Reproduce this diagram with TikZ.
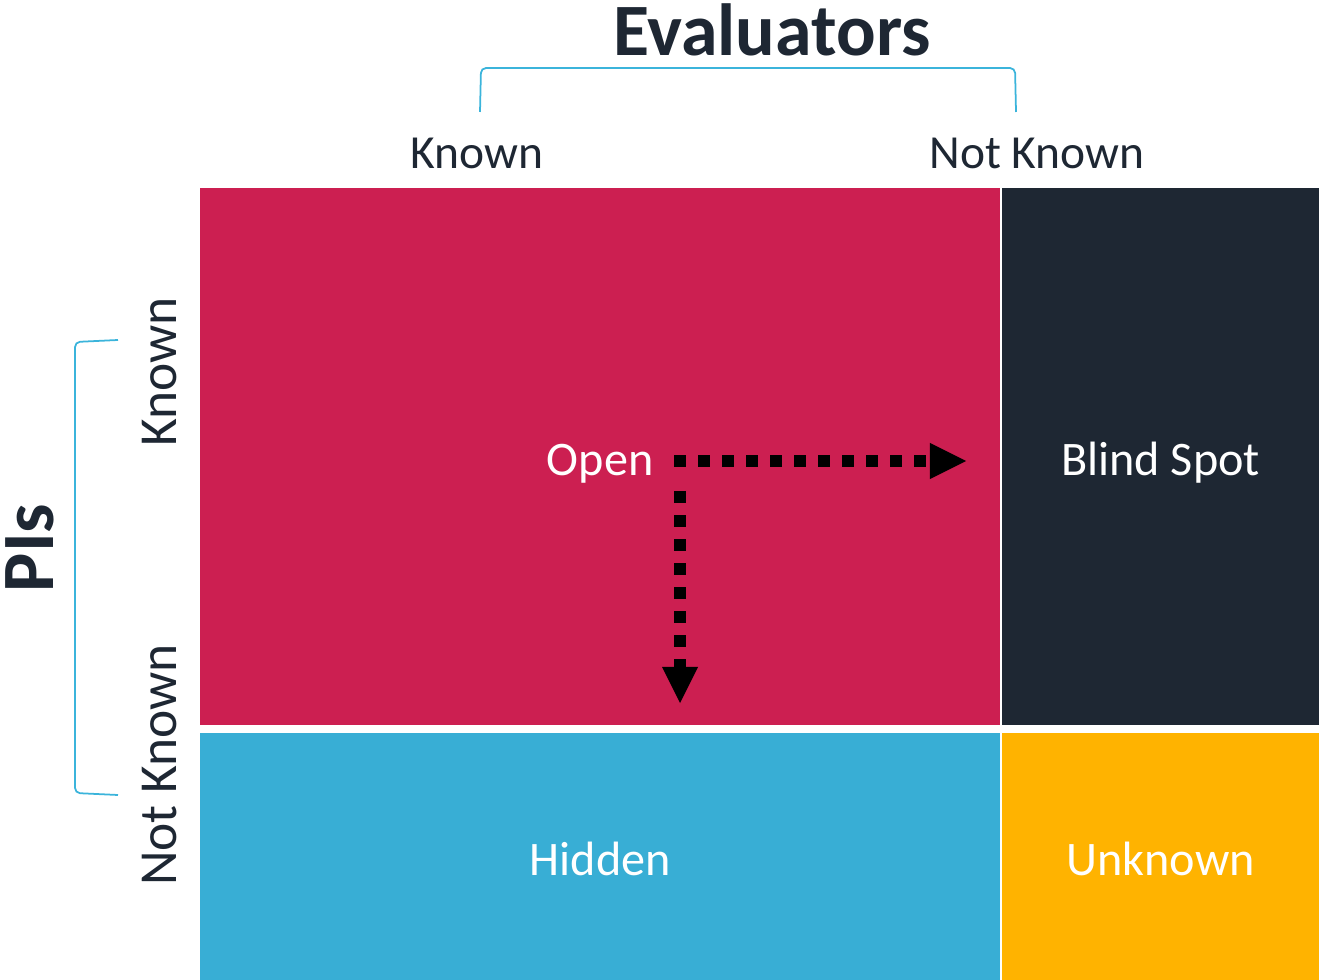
\documentclass[tikz,border=0pt]{standalone}
\usepackage{fontspec}
\setmainfont{Carlito}
\usetikzlibrary{arrows.meta}
\definecolor{openred}{HTML}{CC1F51}
\definecolor{blindnavy}{HTML}{1E2733}
\definecolor{hiddenblue}{HTML}{38AED5}
\definecolor{unknownamber}{HTML}{FFB300}
\definecolor{bracecyan}{HTML}{3BB4DB}
\tikzset{
    quadrant/.style = {
        rectangle,
        anchor=north west,
        outer sep=0pt,
        inner sep=0pt,
        text height=11pt,
        text depth=0.5pt,
        text=white,
        font=\fontsize{13.7}{16}\selectfont,
    },
    axislabel/.style = {
        text=blindnavy,
        font=\fontsize{13.5}{16}\selectfont,
    },
    sidelabel/.style = {
        rotate=90,
        text=blindnavy,
        font=\fontsize{15.2}{18}\selectfont,
    },
    heading/.style = {
        text=blindnavy,
        font=\fontsize{21}{25}\selectfont\bfseries,
    },
    bracket/.style = {
        bracecyan,
        line width=0.5pt,
        rounded corners=0.05cm,
    },
}
\tikzstyle{arrow} = [line width=0.12cm, dash pattern=on 0.12cm off 0.12cm,
    -{Triangle[length=0.36cm, width=0.36cm, line width=0pt]}]

\begin{document}
\begin{tikzpicture}[x=0.01cm, y=-0.01cm]
        \useasboundingbox (0,0) rectangle (1319,980);

        \node(open) [quadrant, fill=openred, minimum width=8cm, minimum height=5.37cm] at (200,188)
        {Open};
        \node(blind) [quadrant, fill=blindnavy, minimum width=3.17cm, minimum height=5.37cm] at (1002,188)
        {Blind Spot};
        \node(hidden) [quadrant, fill=hiddenblue, minimum width=8cm, minimum height=2.47cm] at (200,733)
        {Hidden};
        \node(unknown) [quadrant, fill=unknownamber, minimum width=3.17cm, minimum height=2.47cm] at (1002,733)
        {Unknown};

        \node(evaluators) [heading] at (772,30)
        {Evaluators};
        \node(evalknown) [axislabel] at (477,153)
        {Known};
        \node(evalnotknown) [axislabel] at (1037,153)
        {Not Known};

        \node(pis) [heading, rotate=90] at (30,548)
        {PIs};
        \node(piknown) [sidelabel] at (160,372)
        {Known};
        \node(pinotknown) [sidelabel] at (160,765)
        {Not Known};

        \draw [bracket] (480,112) -- (481,68) -- (1015,68) -- (1016,112);
        \draw [bracket] (118,340) -- (75,342) -- (75,793) -- (118,795);

        \coordinate (rightstart) at (674,461);
        \coordinate (rightend) at (966,461);
        \coordinate (downstart) at (680,491);
        \coordinate (downend) at (680,703);

        \draw [arrow] (rightstart) -- (rightend);
        \draw [arrow] (downstart) -- (downend);

    \end{tikzpicture}
\end{document}
